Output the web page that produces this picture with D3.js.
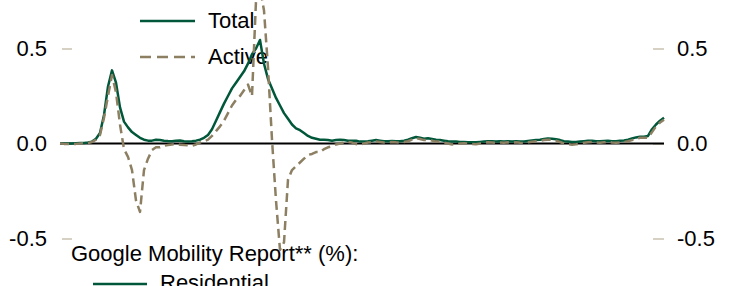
<!DOCTYPE html>
<html>
<head>
<meta charset="utf-8">
<script src="https://cdn.jsdelivr.net/npm/d3@7"></script>
<style>
  html, body { margin: 0; padding: 0; background: #fff; overflow: hidden; }
  svg { display: block; font-family: "Liberation Sans", Arial, sans-serif; }
</style>
</head>
<body>
<svg id="chart" width="733" height="286"></svg>
<script>
// ---- data (index = observation step, value = log-ratio) ----
const totalValues = [
  0.000, 0.000, 0.000, 0.000, 0.001, 0.002, 0.003, 0.005, 0.010, 0.025,
  0.055, 0.150, 0.300, 0.385, 0.320, 0.190, 0.115, 0.085, 0.060, 0.045,
  0.030, 0.020, 0.015, 0.015, 0.020, 0.018, 0.015, 0.013, 0.012, 0.015,
  0.016, 0.012, 0.010, 0.012, 0.015, 0.020, 0.030, 0.045, 0.075, 0.120,
  0.165, 0.210, 0.250, 0.290, 0.320, 0.350, 0.380, 0.420, 0.470, 0.500,
  0.545, 0.420, 0.340, 0.290, 0.240, 0.200, 0.160, 0.130, 0.100, 0.080,
  0.070, 0.055, 0.040, 0.030, 0.025, 0.020, 0.020, 0.018, 0.015, 0.018,
  0.020, 0.018, 0.015, 0.015, 0.015, 0.010, 0.010, 0.012, 0.015, 0.018,
  0.015, 0.012, 0.012, 0.013, 0.012, 0.012, 0.015, 0.020, 0.028, 0.034,
  0.030, 0.025, 0.028, 0.024, 0.020, 0.018, 0.015, 0.012, 0.010, 0.010,
  0.008, 0.008, 0.007, 0.006, 0.006, 0.008, 0.010, 0.012, 0.012, 0.010,
  0.012, 0.010, 0.012, 0.010, 0.012, 0.010, 0.010, 0.013, 0.016, 0.018,
  0.020, 0.024, 0.027, 0.025, 0.022, 0.018, 0.012, 0.010, 0.008, 0.008,
  0.010, 0.012, 0.014, 0.014, 0.012, 0.012, 0.013, 0.014, 0.012, 0.012,
  0.014, 0.016, 0.020, 0.026, 0.032, 0.036, 0.036, 0.040, 0.075, 0.100,
  0.120, 0.135
];
const activeValues = [
  0.000, -0.002, -0.003, -0.003, -0.002, 0.000, 0.001, 0.003, 0.008, 0.020,
  0.045, 0.135, 0.250, 0.360, 0.270, 0.100, -0.030, -0.070, -0.140, -0.300,
  -0.360, -0.140, -0.080, -0.035, -0.020, -0.020, -0.012, -0.008, -0.005, -0.004,
  -0.006, -0.008, -0.010, -0.012, -0.005, 0.005, 0.012, 0.020, 0.040, 0.065,
  0.090, 0.120, 0.160, 0.200, 0.230, 0.250, 0.280, 0.310, 0.250, 0.750,
  0.820, 0.700, 0.400, 0.020, -0.300, -0.560, -0.520, -0.190, -0.140, -0.120,
  -0.100, -0.080, -0.060, -0.055, -0.045, -0.045, -0.030, -0.020, -0.015, -0.005,
  0.000, 0.005, 0.008, 0.005, -0.003, -0.005, 0.000, 0.005, 0.008, 0.010,
  0.008, 0.005, 0.006, 0.008, 0.006, 0.005, 0.008, 0.012, 0.020, 0.028,
  0.024, 0.018, 0.020, 0.015, 0.010, 0.010, 0.005, 0.000, -0.005, -0.003,
  0.000, 0.002, 0.000, -0.003, -0.004, 0.000, 0.004, 0.006, 0.005, 0.003,
  0.005, 0.004, 0.006, 0.005, 0.006, 0.004, 0.003, 0.006, 0.009, 0.012,
  0.015, 0.018, 0.020, 0.020, 0.015, 0.008, 0.000, -0.004, -0.006, -0.004,
  0.000, 0.004, 0.006, 0.008, 0.005, 0.004, 0.006, 0.008, 0.005, 0.004,
  0.006, 0.008, 0.012, 0.018, 0.024, 0.030, 0.030, 0.030, 0.060, 0.090,
  0.110, 0.125
];
const tickValues = [-0.5, 0.0, 0.5];
const topLegend = ["Total", "Active"];
const bottomLegendTitle = "Google Mobility Report** (%):";
const bottomLegend = ["Residential"];

// ---- styles ----
const GREEN = "#00573a";
const KHAKI = "#8c7f62";
const TICK = "#d6d1c3";
const FONT = 22;

const svg = d3.select("#chart");

const x = d3.scaleLinear().domain([0, totalValues.length - 1]).range([60, 664]);
const y = d3.scaleLinear().domain([-0.5, 0.5]).range([238.5, 48.5]);

// axes
const fmt = d => d.toFixed(1);
const left = svg.append("g").attr("transform", "translate(72,0)")
  .call(d3.axisLeft(y).tickValues(tickValues).tickSize(10).tickPadding(15).tickFormat(fmt));
const right = svg.append("g").attr("transform", "translate(653,0)")
  .call(d3.axisRight(y).tickValues(tickValues).tickSize(11).tickPadding(13).tickFormat(fmt));
[left, right].forEach(g => {
  g.select(".domain").remove();
  g.selectAll("line").attr("stroke", TICK).attr("stroke-width", 2);
  g.selectAll("text").attr("fill", "#000").style("font-size", FONT + "px")
    .style("font-family", '"Liberation Sans", Arial, sans-serif');
});

// top legend
const lg = svg.append("g");
topLegend.forEach((name, i) => {
  const yy = [21, 57][i];
  lg.append("line").attr("x1", 140).attr("x2", 195).attr("y1", yy).attr("y2", yy)
    .attr("stroke", i === 0 ? GREEN : KHAKI).attr("stroke-width", 2.5)
    .attr("stroke-dasharray", i === 0 ? null : "11,6");
  lg.append("text").attr("x", 208).attr("y", yy + 7).style("font-size", FONT + "px").text(name);
});

// bottom legend
svg.append("text").attr("x", 71).attr("y", 261).style("font-size", FONT + "px").text(bottomLegendTitle);
bottomLegend.forEach((name, i) => {
  svg.append("line").attr("x1", 93).attr("x2", 147).attr("y1", 284).attr("y2", 284)
    .attr("stroke", GREEN).attr("stroke-width", 2.5);
  svg.append("text").attr("x", 160).attr("y", 290).style("font-size", FONT + "px").text(name);
});

// zero line
svg.append("line").attr("x1", x(0)).attr("x2", x(totalValues.length - 1))
  .attr("y1", y(0)).attr("y2", y(0)).attr("stroke", "#000").attr("stroke-width", 2);

const line = d3.line().x((d, i) => x(i)).y(d => y(d));

svg.append("path").datum(totalValues).attr("d", line)
  .attr("fill", "none").attr("stroke", GREEN).attr("stroke-width", 2.5)
  .attr("stroke-linejoin", "round");
svg.append("path").datum(activeValues).attr("d", line)
  .attr("fill", "none").attr("stroke", KHAKI).attr("stroke-width", 2.5)
  .attr("stroke-dasharray", "9,5").attr("stroke-linejoin", "round");
</script>
</body>
</html>
